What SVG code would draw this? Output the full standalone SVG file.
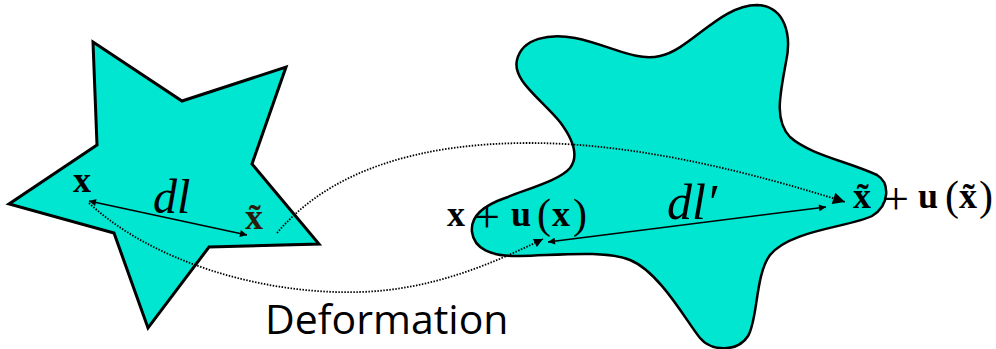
<svg xmlns="http://www.w3.org/2000/svg" width="996" height="349" viewBox="0 0 996 349">
  <style>
    .shape { fill: #00e6d0; stroke: #000; stroke-linejoin: miter; }
    .mb { font-family: "Liberation Serif", serif; font-weight: bold; font-size: 36px; fill: #000; }
    .mr { font-family: "Liberation Serif", serif; font-size: 42px; fill: #000; }
    .mp { font-family: "Liberation Serif", serif; font-size: 46px; fill: #000; }
    .mi { font-family: "Liberation Serif", serif; font-style: italic; font-size: 48px; fill: #000; }
    .lbl { font-family: "Open Sans", "DejaVu Sans", sans-serif; font-size: 41px; fill: #000; }
    .arr { fill: none; stroke: #000; stroke-width: 1.5; }
    .dot { fill: none; stroke: #000; stroke-width: 1.8; stroke-dasharray: 1.5 1.5; }
  </style>
  <defs>
    <marker id="ah" viewBox="0 0 10 10" refX="10" refY="5" markerWidth="9" markerHeight="7" markerUnits="userSpaceOnUse" orient="auto-start-reverse">
      <path d="M0,0 L10,5 L0,10 z" fill="#000"/>
    </marker>
    <marker id="ahm" viewBox="0 0 10 10" refX="10" refY="5" markerWidth="11" markerHeight="9" markerUnits="userSpaceOnUse" orient="auto">
      <path d="M0,0 L10,5 L0,10 z" fill="#000"/>
    </marker>
    <marker id="ahl" viewBox="0 0 10 10" refX="10" refY="5" markerWidth="14" markerHeight="12" markerUnits="userSpaceOnUse" orient="auto">
      <path d="M0,0 L10,5 L0,10 z" fill="#000"/>
    </marker>
  </defs>

  <g id="star">
    <polygon class="shape" stroke-width="3" points="93,42 182,101 286,67 252,164 319,244 209,247 148,328 114,233 9,204 97,145"/>
  </g>

  <g id="deformed">
    <path class="shape" stroke-width="2.5" d="M472,232 C470,215 485,205 505,198 C530,188 560,180 570,168 C580,155 572,138 560,122 C540,98 512,80 517,60 C522,38 550,33 575,38 C610,45 635,62 660,56 C690,50 720,5 757,5 C785,6 792,35 786,62 C780,95 774,120 790,137 C810,155 850,162 877,175 C890,183 890,205 872,216 C850,227 790,230 770,255 C755,275 758,320 748,336 C738,352 712,352 700,338 C688,324 660,272 630,260 C605,250 560,255 520,256 C490,257 474,248 472,232 Z"/>
  </g>

  <g id="connectors">
    <line class="arr" x1="89" y1="201" x2="247" y2="235" marker-start="url(#ah)" marker-end="url(#ah)"/>
    <line class="arr" x1="548" y1="242" x2="826" y2="207" marker-start="url(#ah)" marker-end="url(#ah)"/>
    <path class="dot" d="M89,203 C150,260 260,295 360,292 C430,290 490,265 543,239" marker-end="url(#ahm)"/>
    <path class="dot" d="M277,233 C330,170 420,143 530,143 C640,143 760,175 845,202" marker-end="url(#ahl)"/>
  </g>

  <g id="labels">
    <text class="mb" x="73" y="192">x</text>
    <text class="mi" x="153" y="213">dl</text>
    <text class="mb" x="245" y="229" style="fill:#2a1a0a">x̃</text>

    <text class="mb" x="447" y="226">x</text>
    <text class="mp" x="474" y="232">+</text>
    <text class="mb" x="511" y="226">u</text>
    <text class="mr" x="537" y="228">(</text>
    <text class="mb" x="552" y="226">x</text>
    <text class="mr" x="573" y="228">)</text>

    <text class="mi" x="667" y="219" style="font-size:50px">dl′</text>

    <text class="mb" x="853" y="208">x̃</text>
    <text class="mp" x="883" y="214">+</text>
    <text class="mb" x="918" y="208">u</text>
    <text class="mr" x="945" y="210">(</text>
    <text class="mb" x="959" y="208">x̃</text>
    <text class="mr" x="979" y="210">)</text>

    <text class="lbl" x="265" y="334">Deformation</text>
  </g>
</svg>
